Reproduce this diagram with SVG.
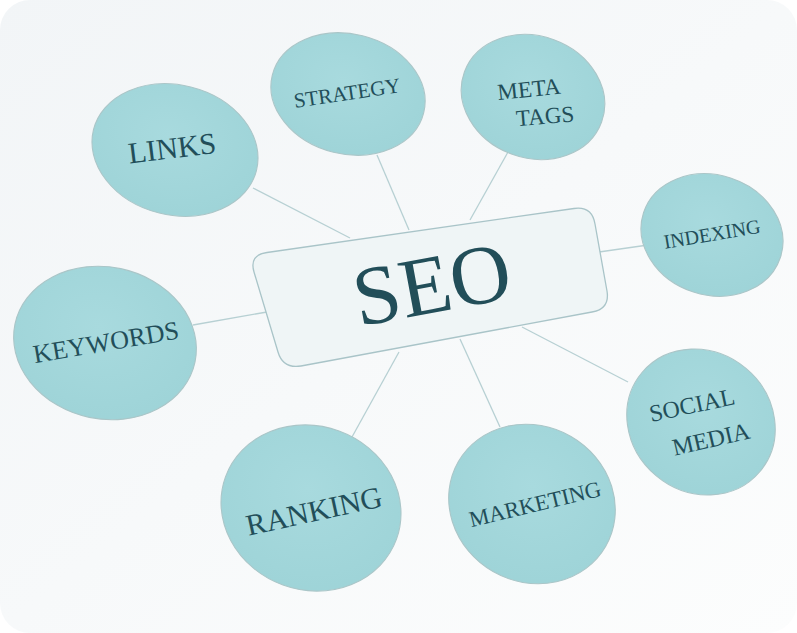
<svg xmlns="http://www.w3.org/2000/svg" width="797" height="633" viewBox="0 0 797 633">
  <defs>
    <linearGradient id="paper" x1="0" y1="0" x2="1" y2="1">
      <stop offset="0" stop-color="#f2f5f7"/>
      <stop offset="1" stop-color="#fcfdfd"/>
    </linearGradient>
    <radialGradient id="dot" cx="0.45" cy="0.4" r="0.7">
      <stop offset="0" stop-color="#a8dade"/>
      <stop offset="1" stop-color="#9dd3d7"/>
    </radialGradient>
    <style>
      .bubble { fill: url(#dot); stroke: #aac6c8; stroke-width: 1.1; }
      .lbl { font-family: "Liberation Serif", "DejaVu Serif", serif; fill: #224e59; text-anchor: middle; }
      .conn line { stroke: #b7d0d3; stroke-width: 1.3; }
      .hub { fill: #eff5f6; stroke: #a9c4c8; stroke-width: 1.3; }
    </style>
  </defs>
  <rect x="0" y="0" width="797" height="633" fill="#ffffff"/>
  <rect x="0" y="0" width="797" height="633" rx="30" ry="30" fill="url(#paper)"/>

  <g id="connectors" class="conn">
    <line x1="253" y1="188" x2="350" y2="238"/>
    <line x1="377" y1="155" x2="409" y2="230"/>
    <line x1="508" y1="152" x2="470" y2="220"/>
    <line x1="592" y1="253" x2="648" y2="245"/>
    <line x1="193" y1="325" x2="267" y2="312"/>
    <line x1="522" y1="327" x2="628" y2="382"/>
    <line x1="460" y1="339" x2="500" y2="427"/>
    <line x1="399" y1="352" x2="352" y2="437"/>
  </g>

  <g id="seo">
    <path class="hub" d="M 267,252.5 L 574,208.5 Q 592,206 595,224 L 607,291 Q 610,309 592,312 L 301,366 Q 283,369 278,352 L 254,272 Q 249,255 267,252.5 Z"/>
    <text class="lbl" font-size="84" transform="translate(437,312) rotate(-10.5)" x="0" y="0">SEO</text>
  </g>

  <g id="links">
    <ellipse class="bubble" cx="175" cy="150" rx="84" ry="65" transform="rotate(14 175 150)"/>
    <text class="lbl" font-size="30" transform="translate(172,148) rotate(-7)" x="0" y="0" dy="0.34em">LINKS</text>
  </g>

  <g id="strategy">
    <ellipse class="bubble" cx="348" cy="94" rx="78" ry="60" transform="rotate(14 348 94)"/>
    <text class="lbl" font-size="21" transform="translate(347,93) rotate(-8.5)" x="0" y="0" dy="0.34em">STRATEGY</text>
  </g>

  <g id="meta-tags">
    <ellipse class="bubble" cx="533" cy="97" rx="73" ry="61" transform="rotate(20 533 97)"/>
    <text class="lbl" font-size="23" transform="translate(529,89) rotate(-6)" x="0" y="0" dy="0.34em">META</text>
    <text class="lbl" font-size="23" transform="translate(545,116) rotate(-5)" x="0" y="0" dy="0.34em">TAGS</text>
  </g>

  <g id="indexing">
    <ellipse class="bubble" cx="712" cy="235" rx="72" ry="60" transform="rotate(18 712 235)"/>
    <text class="lbl" font-size="20" transform="translate(712,234) rotate(-9.5)" x="0" y="0" dy="0.34em">INDEXING</text>
  </g>

  <g id="keywords">
    <ellipse class="bubble" cx="105" cy="343" rx="92" ry="76" transform="rotate(12 105 343)"/>
    <text class="lbl" font-size="26" transform="translate(106,342) rotate(-9.7)" x="0" y="0" dy="0.34em">KEYWORDS</text>
  </g>

  <g id="social-media">
    <ellipse class="bubble" cx="701" cy="422" rx="77" ry="70" transform="rotate(40 701 422)"/>
    <text class="lbl" font-size="24" transform="translate(692,405) rotate(-12)" x="0" y="0" dy="0.34em">SOCIAL</text>
    <text class="lbl" font-size="24" transform="translate(711,439) rotate(-13)" x="0" y="0" dy="0.34em">MEDIA</text>
  </g>

  <g id="marketing">
    <ellipse class="bubble" cx="532" cy="504" rx="85" ry="78" transform="rotate(30 532 504)"/>
    <text class="lbl" font-size="22.5" transform="translate(535,504) rotate(-13.5)" x="0" y="0" dy="0.34em">MARKETING</text>
  </g>

  <g id="ranking">
    <ellipse class="bubble" cx="311" cy="508" rx="91" ry="82" transform="rotate(20 311 508)"/>
    <text class="lbl" font-size="30" transform="translate(314,511) rotate(-12.3)" x="0" y="0" dy="0.34em">RANKING</text>
  </g>
</svg>
